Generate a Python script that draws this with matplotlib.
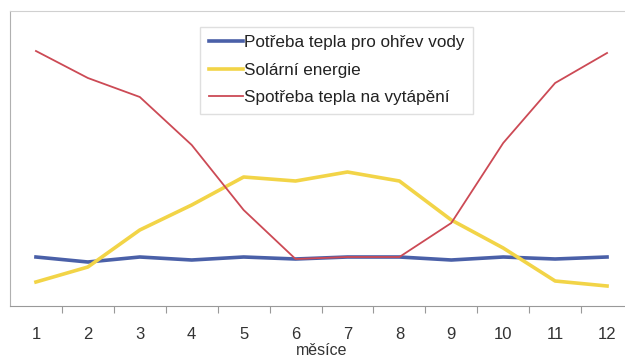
import matplotlib
matplotlib.use('Agg')
import matplotlib.pyplot as plt
from matplotlib.ticker import FixedLocator

plt.rcParams['font.family'] = ['Liberation Sans', 'DejaVu Sans']

mesice = [1, 2, 3, 4, 5, 6, 7, 8, 9, 10, 11, 12]
ohrev_vody = [49, 44, 49, 46, 49, 47, 49, 49, 46, 49, 47, 49]
solarni = [24, 39, 76, 101, 129, 125, 134, 125, 86, 58, 25, 20]
vytapeni = [255, 228, 209, 161, 96, 47, 49, 49, 83, 163, 223, 253]

fig = plt.figure(figsize=(6.25, 3.6), dpi=100)
ax = fig.add_axes([10 / 625, 54 / 360, 623 / 625, 295 / 360])

ax.plot(mesice, ohrev_vody, color='#4a60a8', lw=2.6, label='Potřeba tepla pro ohřev vody')
ax.plot(mesice, solarni, color='#f2d447', lw=2.6, label='Solární energie')
ax.plot(mesice, vytapeni, color='#cc4a55', lw=1.3, label='Spotřeba tepla na vytápění')

ax.set_xlim(0.5, 12.5)
ax.set_ylim(0, 295)
ax.set_xticks(mesice)
ax.set_xticklabels([str(m) for m in mesice], fontsize=12, color='#333333')
ax.xaxis.set_minor_locator(FixedLocator([m + 0.5 for m in mesice[:-1]]))
ax.tick_params(axis='x', which='major', length=0, pad=15)
ax.tick_params(axis='x', which='minor', length=5, color='#999999', width=0.8)
ax.set_yticks([])
ax.set_xlabel('měsíce', fontsize=11.5, color='#333333', labelpad=1)

for side in ['top', 'right']:
    ax.spines[side].set_color('#d0d0d0')
ax.spines['left'].set_color('#b0b0b0')
ax.spines['bottom'].set_color('#999999')

leg = ax.legend(loc='upper left', bbox_to_anchor=(0.305, 0.946), fontsize=12.3,
                frameon=True, fancybox=False, edgecolor='#d8d8d8',
                handlelength=2.0, handletextpad=0.1, labelspacing=0.72,
                borderpad=0.5, borderaxespad=0)
for t in leg.get_texts():
    t.set_color('#222222')

fig.savefig('out.png', dpi=100)
